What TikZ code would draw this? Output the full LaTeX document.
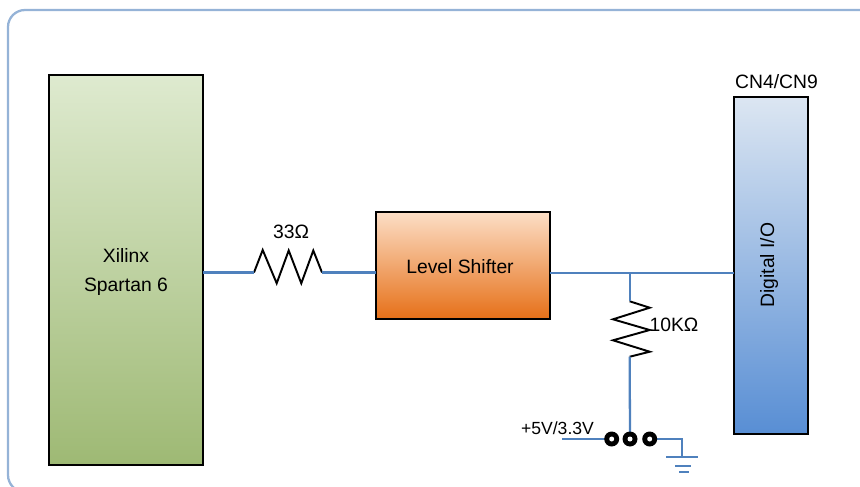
\documentclass[tikz,border=0pt]{standalone}
\usepackage{fontspec}
\setmainfont{Liberation Sans}
\usetikzlibrary{positioning,calc}
\definecolor{wireblue}{RGB}{79,129,189}
\definecolor{frameblue}{RGB}{149,179,215}
\definecolor{softgreen}{RGB}{222,234,207}
\definecolor{deepgreen}{RGB}{158,185,116}
\definecolor{softorange}{RGB}{252,222,198}
\definecolor{deeporange}{RGB}{230,112,24}
\definecolor{softblue}{RGB}{220,230,242}
\definecolor{deepblue}{RGB}{88,142,212}
\begin{document}
\begin{tikzpicture}[x=.02cm,y=-.02cm,font=\fontsize{11}{16.4}\selectfont,
box/.style={draw=black,line width=1.4pt,align=center,inner sep=0pt,outer sep=0pt},
wire/.style={draw=wireblue,line width=1.3pt},
res/.style={draw=black,line width=1.1pt,line join=miter},
pin/.style={circle,fill=black,minimum size=.3cm,inner sep=0pt,outer sep=0pt,path picture={\fill[white] (path picture bounding box.center) circle (.05cm);}},
lbl/.style={inner sep=0pt,align=center}]
\path[use as bounding box,clip] (0,0) rectangle (860,487);
\draw[draw=frameblue,line width=1.3pt,rounded corners=.34cm] (8,10) rectangle (900,492);
\node[box,top color=softgreen,bottom color=deepgreen,minimum width=3.08cm,minimum height=7.8cm] (fpga) at (126,270) {};
\node[lbl] (fpgalbl) at (126,272) {Xilinx\\Spartan 6};
\node[box,top color=softorange,bottom color=deeporange,minimum width=3.48cm,minimum height=2.14cm] (shifter) at (463,265.5) {};
\node[lbl] (shifterlbl) at (460,267) {Level Shifter};
\node[box,top color=softblue,bottom color=deepblue,minimum width=1.48cm,minimum height=6.74cm] (dio) at (771,265.5) {};
\node[lbl,rotate=90] (diolbl) at (769,265) {Digital I/O};
\node[lbl] (cn) at (776.5,82) {CN4/CN9};
% series resistor
\coordinate (ra) at (254,272.5);
\coordinate (rb) at (322,272.5);
\draw[res] (ra)--(262.7,250)--(276.7,283.3)--(288.7,250.5)--(301.3,283.3)--(313.3,250.5)--(rb);
\node[lbl] (rlbl) at (291,232) {33Ω};
\draw[wire] (ra -| fpga.east)--(ra);
\draw[wire] (rb)--(rb -| shifter.west);
% pull resistor
\coordinate (tap) at (629.7,273);
\coordinate (pa) at (629.7,301.3);
\coordinate (pb) at (629.7,356.7);
\draw[res] (pa)--(649.7,307.7)--(613,319.3)--(649.7,330)--(613,340.3)--(649.7,351.7)--(pb);
\node[lbl] (plbl) at (674,325) {10KΩ};
\draw[wire] (tap -| shifter.east)--(tap -| dio.west);
\draw[wire] (tap)--(pa);
% jumper
\coordinate (vin) at (562,439);
\coordinate (gnd) at (681.7,457);
\node[lbl,font=\fontsize{10}{12}\selectfont] (vlbl) at (557.5,428) {+5V/3.3V};
\draw[wire] (pb)--(630,439);
\draw[wire] (vin)--(611.7,439);
\draw[wire] (649.7,439) -| (gnd);
\node[pin] (j1) at (611.7,439) {};
\node[pin] (j2) at (630,439) {};
\node[pin] (j3) at (649.7,439) {};
\draw[wire] (666,457)--(698,457);
\draw[wire] (675,465.7)--(691,465.7);
\draw[wire] (679,472)--(689,472);
\end{tikzpicture}
\end{document}
